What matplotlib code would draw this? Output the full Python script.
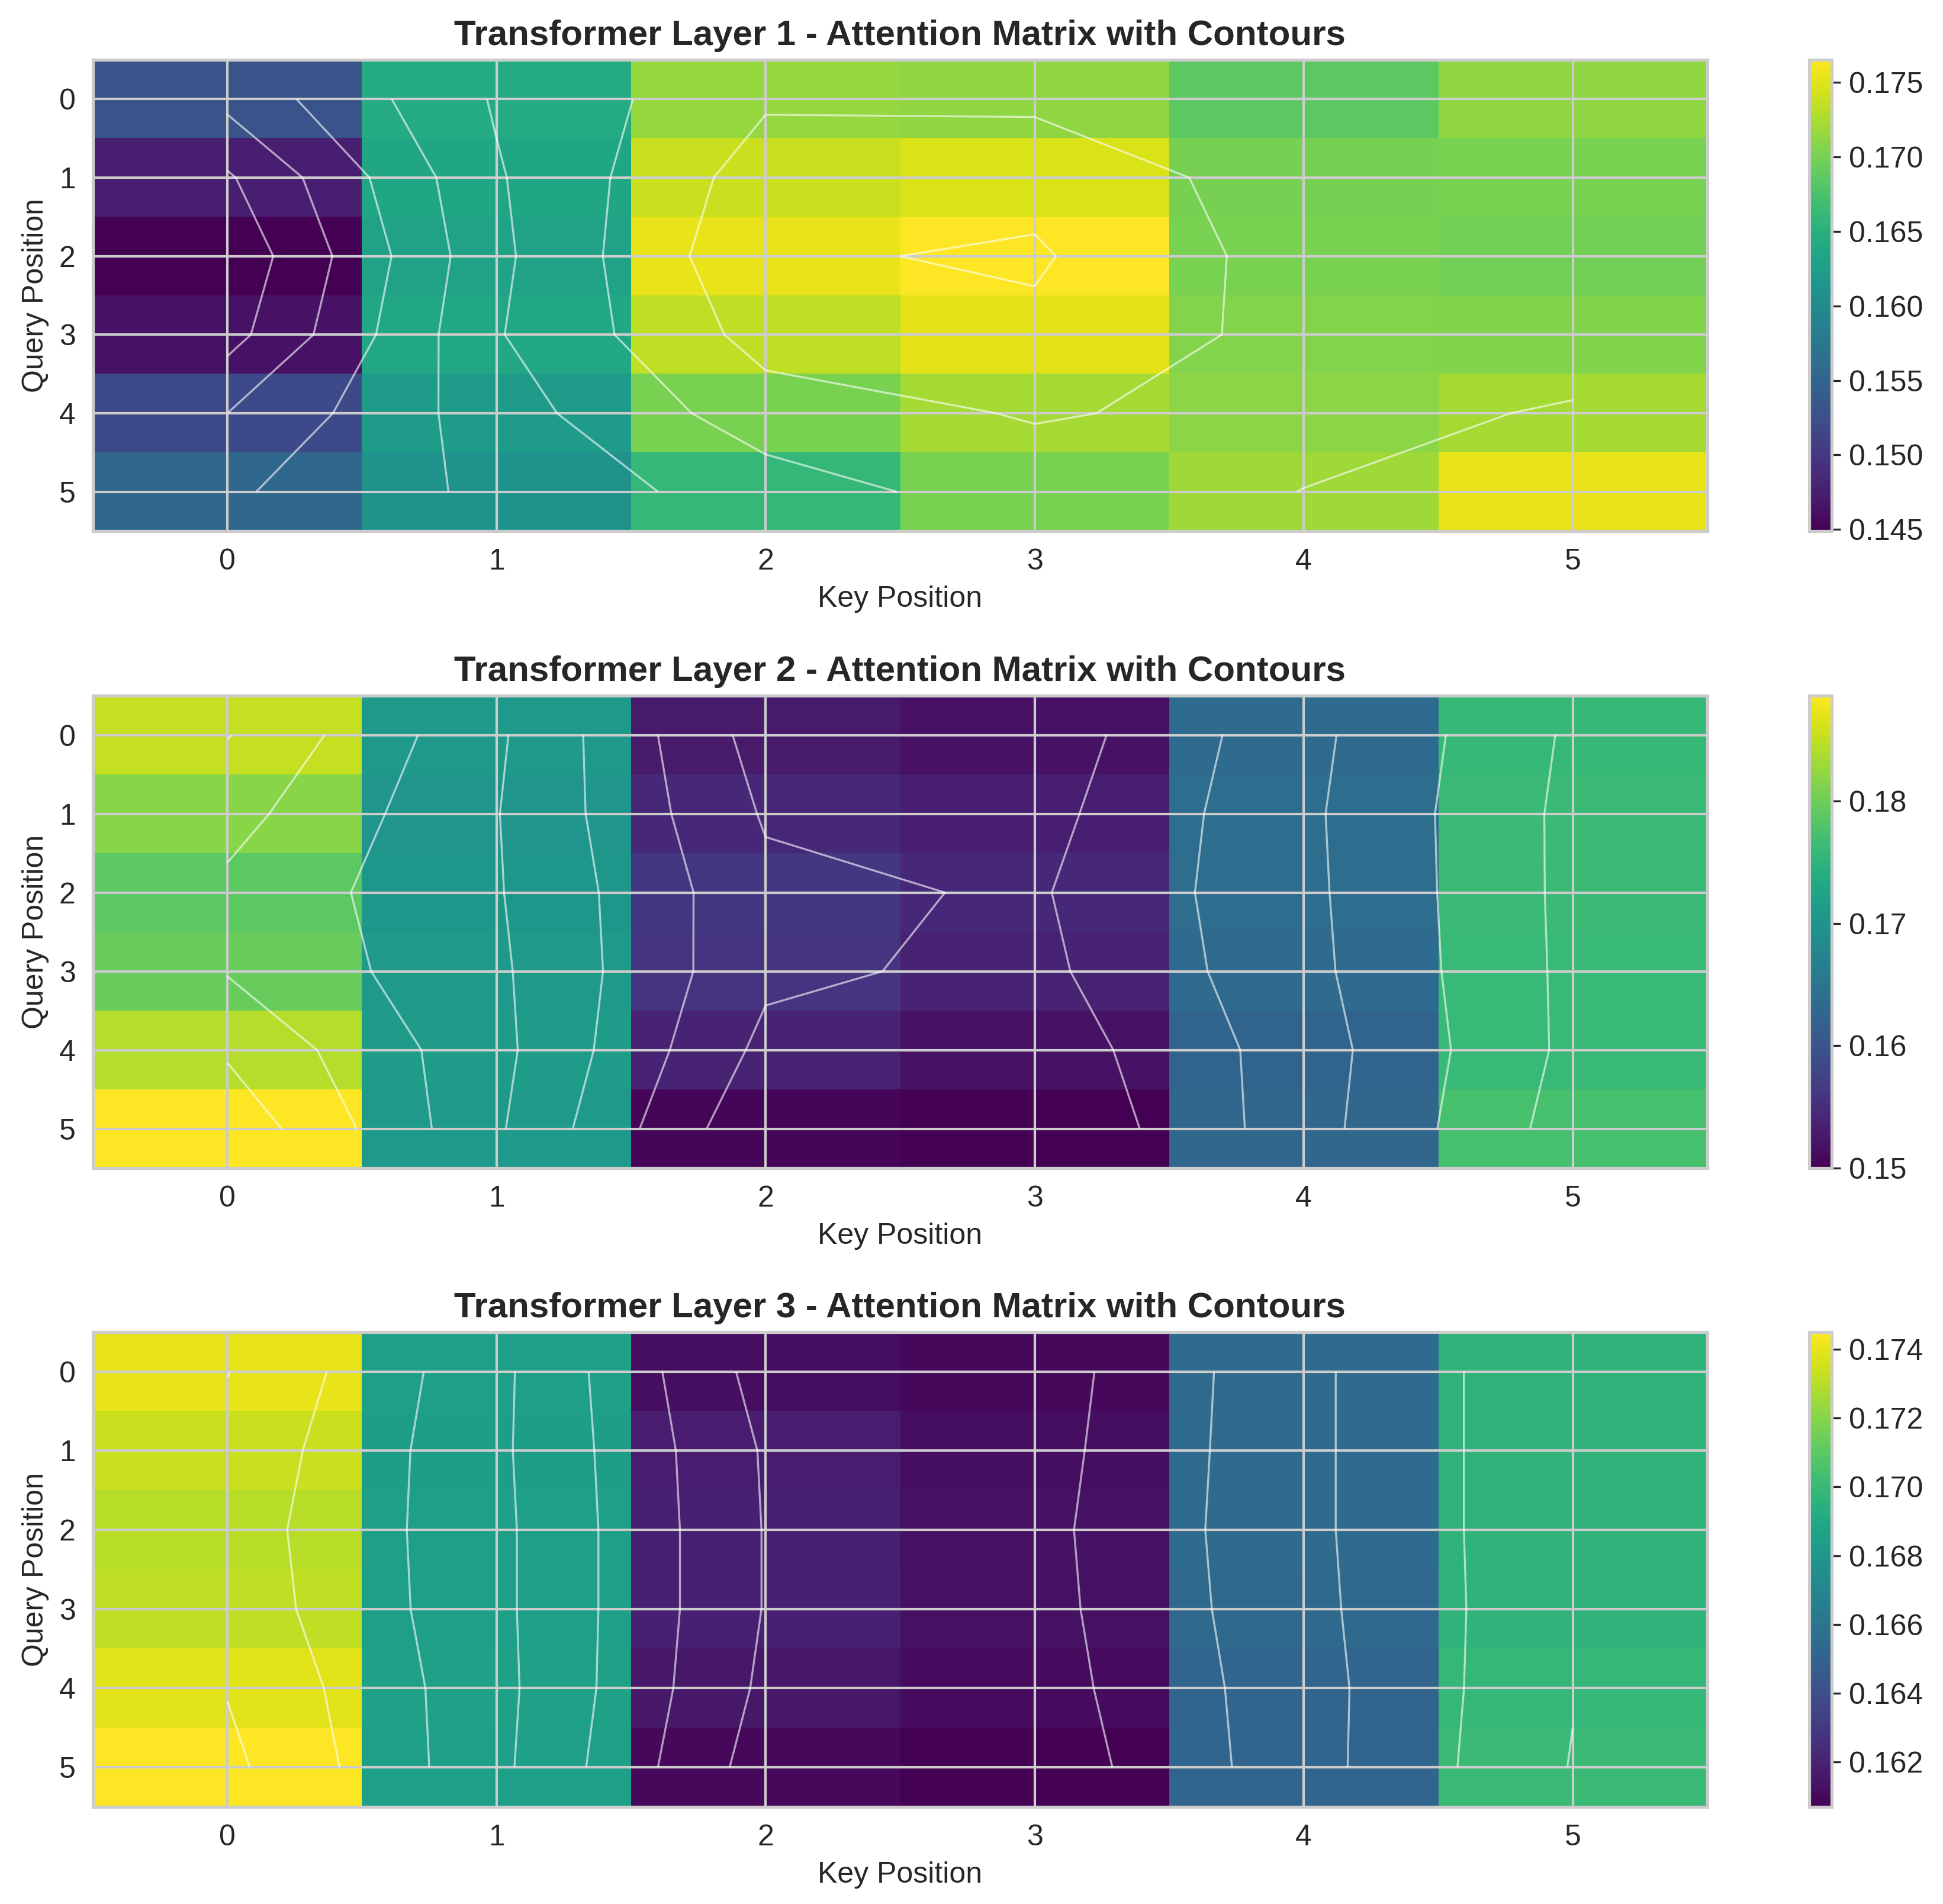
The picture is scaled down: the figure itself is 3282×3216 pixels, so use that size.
import numpy as np
import matplotlib
matplotlib.use("Agg")
import matplotlib.pyplot as plt
import seaborn as sns

sns.set_style("whitegrid")
plt.rcParams['font.family'] = ['Liberation Sans', 'DejaVu Sans']

key_positions = [0, 1, 2, 3, 4, 5]
query_positions = [0, 1, 2, 3, 4, 5]

layer1 = [
    [0.1531, 0.1644, 0.1715, 0.1712, 0.1685, 0.1713],
    [0.1475, 0.1636, 0.1740, 0.1747, 0.1700, 0.1702],
    [0.1449, 0.1631, 0.1755, 0.1765, 0.1702, 0.1698],
    [0.1465, 0.1637, 0.1735, 0.1752, 0.1706, 0.1705],
    [0.1520, 0.1622, 0.1702, 0.1723, 0.1710, 0.1723],
    [0.1554, 0.1610, 0.1660, 0.1701, 0.17205, 0.17545],
]
layer2 = [
    [0.1852, 0.1708, 0.1528, 0.1519, 0.1635, 0.1758],
    [0.1818, 0.1702, 0.1545, 0.1532, 0.1640, 0.1763],
    [0.1789, 0.1704, 0.1562, 0.1544, 0.1638, 0.1763],
    [0.1797, 0.1709, 0.1560, 0.1537, 0.1635, 0.1762],
    [0.1843, 0.1714, 0.1537, 0.1519, 0.1625, 0.1762],
    [0.1886, 0.1707, 0.1506, 0.1500, 0.1628, 0.1773],
]
layer3 = [
    [0.17405, 0.1685, 0.1612, 0.1610, 0.1655, 0.1697],
    [0.1734, 0.1684, 0.1618, 0.1612, 0.1655, 0.1697],
    [0.1730, 0.1685, 0.1619, 0.1614, 0.1655, 0.1697],
    [0.1732, 0.1685, 0.1619, 0.1613, 0.1654, 0.1697],
    [0.1739, 0.1686, 0.1616, 0.1611, 0.1652, 0.1699],
    [0.1745, 0.1685, 0.1610, 0.1607, 0.1652, 0.1701],
]
layers = [layer1, layer2, layer3]
titles = [
    "Transformer Layer 1 - Attention Matrix with Contours",
    "Transformer Layer 2 - Attention Matrix with Contours",
    "Transformer Layer 3 - Attention Matrix with Contours",
]

W, H = 3282, 3216
fig = plt.figure(figsize=(W / 300, H / 300), dpi=300)

ax_left, ax_w = 0.0478, 0.8309
cb_left, cb_w = 0.9311, 0.0116
rows = [(0.7211, 0.2475), (0.3865, 0.2481), (0.0510, 0.2494)]

for data, title, (bottom, height) in zip(layers, titles, rows):
    arr = np.array(data)
    ax = fig.add_axes([ax_left, bottom, ax_w, height])
    cax = fig.add_axes([cb_left, bottom, cb_w, height])
    im = ax.imshow(arr, cmap='viridis', aspect='auto', interpolation='nearest')
    ax.contour(arr, colors='white', alpha=0.6, linewidths=0.8)
    ax.set_xlim(-0.5, 5.5)
    ax.set_ylim(5.5, -0.5)
    ax.set_xticks(key_positions)
    ax.set_yticks(query_positions)
    ax.tick_params(labelsize=12)
    ax.set_title(title, fontsize=14.4, fontweight='bold')
    ax.set_xlabel("Key Position", fontsize=12)
    ax.set_ylabel("Query Position", fontsize=12)
    ax.grid(True, color='#cccccc', linewidth=1)
    for s in ax.spines.values():
        s.set_color('#cccccc')
        s.set_linewidth(1.25)
    cb = fig.colorbar(im, cax=cax)
    cax.grid(False)
    cb.outline.set_edgecolor('#cccccc')
    cb.outline.set_linewidth(1.25)
    cax.tick_params(labelsize=12, length=3.5, width=0.8, color='#262626', right=True)

fig.savefig("out.png", dpi=300)
